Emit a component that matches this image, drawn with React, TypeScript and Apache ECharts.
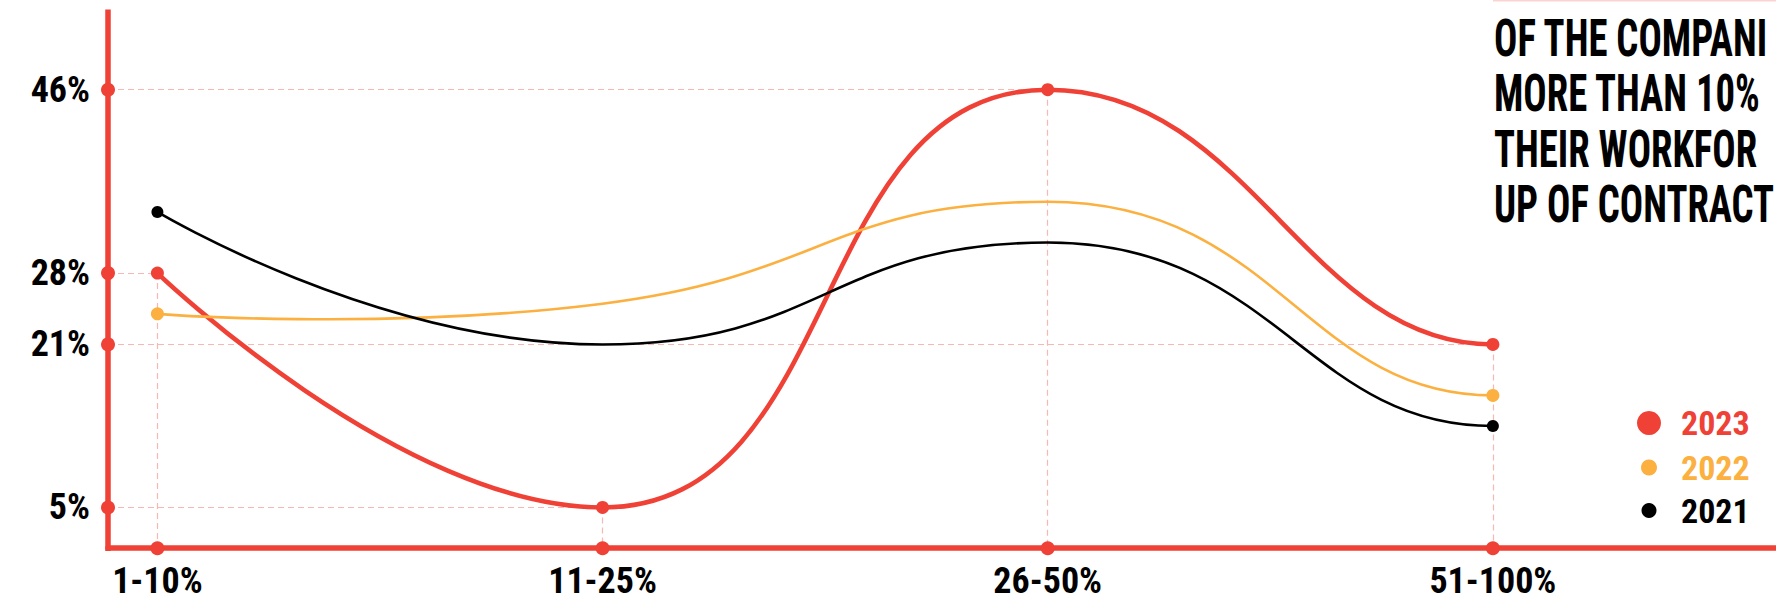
import React, { useEffect, useRef } from 'react';
import * as echarts from 'echarts';

const categories = ['1-10%', '11-25%', '26-50%', '51-100%'];
const seriesNames = ['2023', '2022', '2021'];
const values2023 = [28, 5, 46, 21];
const values2022 = [24, 25, 35, 16];
const values2021 = [34, 21, 31, 13];
const yTickValues = [5, 21, 28, 46];
const titleLines = ['OF THE COMPANI', 'MORE THAN 10%', 'THEIR WORKFOR', 'UP OF CONTRACT'];

const RED = '#EF4136';
const ORANGE = '#FBB040';
const BLACK = '#000000';
const PINK = '#F7B8B3';
const X_MIN = -0.111;
const X_MAX = 3.636;
const Y_MIN = 1;
const Y_MAX = 53.6;
const FONT_CANDIDATES = [
  'Liberation Sans Narrow',
  'Noto Sans ExtraCondensed',
  'Noto Sans Condensed',
  'Roboto Condensed',
  'Open Sans Condensed',
  'DejaVu Sans Condensed',
];

function ctx2d(): CanvasRenderingContext2D | null {
  return document.createElement('canvas').getContext('2d');
}

function fontAvailable(name: string): boolean {
  const c = ctx2d();
  if (!c) return false;
  const s = 'mmmmmmlli1046%WQ@';
  for (const fb of ['monospace', 'serif']) {
    c.font = `bold 40px ${fb}`;
    const w0 = c.measureText(s).width;
    c.font = `bold 40px "${name}", ${fb}`;
    const w1 = c.measureText(s).width;
    if (Math.abs(w0 - w1) > 0.01) return true;
  }
  return false;
}

function measure(text: string, font: string): number {
  const c = ctx2d();
  if (!c) return text.length * 20;
  c.font = font;
  return c.measureText(text).width;
}

function pickFont(): string {
  let best = '';
  let bestW = Infinity;
  for (const f of FONT_CANDIDATES) {
    if (!fontAvailable(f)) continue;
    const w = measure('46%', `bold 37px "${f}"`);
    if (w < bestW) {
      bestW = w;
      best = f;
    }
  }
  return best ? `"${best}", "DejaVu Sans", sans-serif` : '"DejaVu Sans", sans-serif';
}

function smoothPath(pts: number[][], s: number, endHandle: number): string {
  const n = pts.length;
  const outCp: number[][] = [];
  const inCp: number[][] = [];
  for (let i = 0; i < n; i++) {
    const [x, y] = pts[i];
    if (i === 0) {
      outCp[i] = [x, y];
      inCp[i] = [x, y];
      continue;
    }
    if (i === n - 1) {
      const dx = x - pts[i - 1][0];
      inCp[i] = [x - dx * endHandle, y];
      outCp[i] = [x, y];
      continue;
    }
    const [px, py] = pts[i - 1];
    const [nx, ny] = pts[i + 1];
    const vx = nx - px;
    let vy = ny - py;
    if ((y - py) * (ny - y) <= 0) vy = 0;
    const lp = Math.hypot(x - px, y - py);
    const ln = Math.hypot(nx - x, ny - y);
    const r = ln / (lp + ln);
    inCp[i] = [x - vx * s * (1 - r), y - vy * s * (1 - r)];
    outCp[i] = [x + vx * s * r, y + vy * s * r];
  }
  let d = `M${pts[0][0]},${pts[0][1]}`;
  for (let i = 1; i < n; i++) {
    d += ` C${outCp[i - 1][0]},${outCp[i - 1][1]} ${inCp[i][0]},${inCp[i][1]} ${pts[i][0]},${pts[i][1]}`;
  }
  return d;
}

export default function App() {
  const ref = useRef<HTMLDivElement>(null);
  useEffect(() => {
    const el = ref.current;
    if (!el) return;
    const chart = echarts.init(el, null, { renderer: 'svg' });

    const FONT = pickFont();
    const w46 = measure('46%', `bold 37px ${FONT}`);
    const labelSize = Math.round(Math.min(37, 37 * Math.pow(56 / Math.max(w46, 1), 0.25)));
    const legendSize = Math.round(labelSize * 35 / 37);

    const curveSeries = (
      name: string,
      vals: number[],
      color: string,
      width: number,
      dotIdx: number[],
      dotR: number,
      z: number,
    ) => ({
      name,
      type: 'custom',
      coordinateSystem: 'cartesian2d',
      data: vals.map((v, i) => [i, v]),
      itemStyle: { color },
      z,
      silent: true,
      renderItem: (params: any, api: any) => {
        if (params.dataIndex !== 0) return null;
        const pts = vals.map((v, i) => api.coord([i, v]));
        const children: any[] = [
          {
            type: 'path',
            shape: { pathData: smoothPath(pts, 0.5, 0.42) },
            style: { fill: 'none', stroke: color, lineWidth: width },
          },
        ];
        dotIdx.forEach((i) => {
          children.push({
            type: 'circle',
            shape: { cx: pts[i][0], cy: pts[i][1], r: dotR },
            style: { fill: color },
          });
        });
        return { type: 'group', children };
      },
    });

    const markData: any[] = [];
    values2023.forEach((v, i) => {
      markData.push([{ coord: [X_MIN, v] }, { coord: [i, v] }]);
      markData.push([{ coord: [i, v] }, { coord: [i, Y_MIN] }]);
    });

    const axisDots = [
      ...yTickValues.map((v) => [X_MIN, v]),
      ...categories.map((_, i) => [i, Y_MIN]),
    ];

    const titleFont = `bold 52px ${FONT}`;
    const titleW = Math.max(...titleLines.map((l) => measure(l, titleFont)));
    const titleScale = 280 / titleW;

    const legendItem = (name: string, color: string, d: number, centerY: number) => ({
      data: [name],
      left: 1649 - d / 2,
      top: centerY - d / 2,
      padding: 0,
      itemWidth: d,
      itemHeight: d,
      icon: 'circle',
      selectedMode: false,
      itemStyle: { borderWidth: 0 },
      textStyle: {
        color,
        fontSize: legendSize,
        fontWeight: 'bold',
        fontFamily: FONT,
        padding: [0, 0, 0, 27 - d / 2],
      },
    });

    const labelFont = {
      color: '#000',
      fontSize: labelSize,
      lineHeight: labelSize,
      fontWeight: 'bold',
      fontFamily: FONT,
    };

    const option: any = {
      animation: false,
      backgroundColor: '#ffffff',
      grid: { left: 108, right: 0, top: 12.3, bottom: 52.8, containLabel: false, outerBoundsMode: 'none' },
      xAxis: {
        type: 'value',
        min: X_MIN,
        max: X_MAX,
        z: 0,
        axisLine: { show: true, onZero: false, lineStyle: { color: RED, width: 5.5 } },
        axisTick: { show: false },
        splitLine: { show: false },
        axisLabel: {
          customValues: categories.map((_, i) => i),
          formatter: (v: number) => categories[Math.round(v)] ?? '',
          margin: 33 - labelSize / 2,
          ...labelFont,
        },
      },
      yAxis: {
        type: 'value',
        min: Y_MIN,
        max: Y_MAX,
        z: 0,
        axisLine: { show: true, onZero: false, lineStyle: { color: RED, width: 5.5, cap: 'square' } },
        axisTick: { show: false },
        splitLine: { show: false },
        axisLabel: {
          customValues: yTickValues,
          formatter: (v: number) => `${v}%`,
          margin: 18,
          ...labelFont,
        },
      },
      legend: [
        legendItem(seriesNames[0], RED, 24, 418),
        legendItem(seriesNames[1], ORANGE, 16, 458.5),
        legendItem(seriesNames[2], BLACK, 15, 501),
      ],
      graphic: [
        {
          type: 'text',
          x: 1494,
          y: 10,
          scaleX: titleScale,
          silent: true,
          style: {
            text: titleLines.join('\n'),
            font: titleFont,
            lineHeight: 55.5,
            fill: '#000',
            align: 'left',
            verticalAlign: 'top',
          },
        },
        {
          type: 'line',
          silent: true,
          shape: { x1: 1493, y1: 0.5, x2: 1776, y2: 0.5 },
          style: { stroke: '#FBD3D0', lineWidth: 2 },
        },
      ],
      series: [
        {
          name: 'guides',
          type: 'scatter',
          data: values2023.map((v, i) => [i, v]),
          symbol: 'none',
          symbolSize: 0,
          silent: true,
          z: 1,
          markLine: {
            silent: true,
            z: 1,
            symbol: ['none', 'none'],
            label: { show: false },
            lineStyle: { color: PINK, type: [6, 4], width: 1.2, opacity: 1 },
            emphasis: { disabled: true },
            data: markData,
          },
        },
        {
          name: 'axisDots',
          type: 'scatter',
          data: axisDots,
          symbol: 'circle',
          symbolSize: 14,
          clip: false,
          itemStyle: { color: RED, opacity: 1, borderWidth: 0 },
          emphasis: { disabled: true },
          silent: true,
          z: 6,
        },
        curveSeries(seriesNames[0], values2023, RED, 4.6, [0, 1, 2, 3], 6.5, 7),
        curveSeries(seriesNames[1], values2022, ORANGE, 2.6, [0, values2022.length - 1], 6.5, 8),
        curveSeries(seriesNames[2], values2021, BLACK, 2.6, [0, values2021.length - 1], 6, 9),
      ],
    };

    chart.setOption(option);
    return () => chart.dispose();
  }, []);

  return (
    <div
      ref={ref}
      style={{ position: 'fixed', left: 0, top: 0, width: 1776, height: 601, background: '#fff' }}
    />
  );
}
